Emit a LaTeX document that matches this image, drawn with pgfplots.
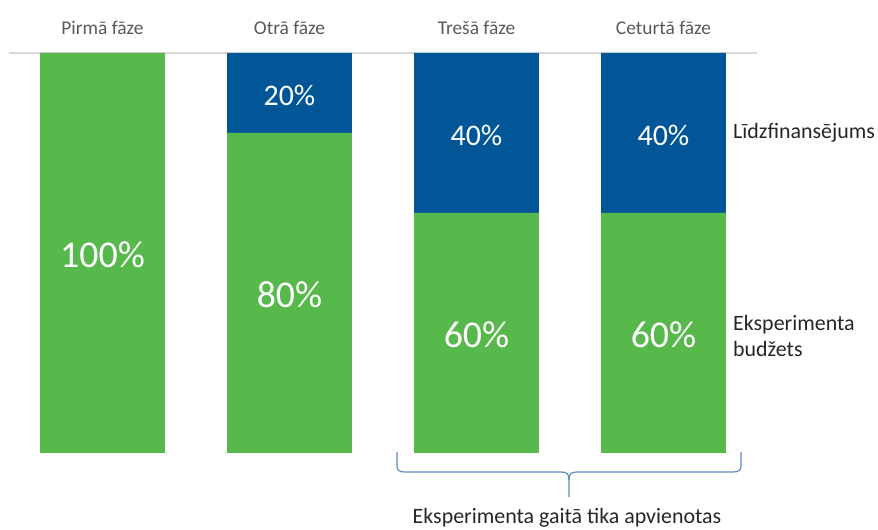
\documentclass[border=0pt]{standalone}
\usepackage{fontspec}
\setmainfont{Carlito}
\usepackage{pgfplots}
\pgfplotsset{compat=1.18}
\definecolor{cgreen}{HTML}{57B84B}
\definecolor{cblue}{HTML}{005696}
\definecolor{cgrayline}{HTML}{D9D9D9}
\definecolor{cgraytext}{HTML}{595959}
\definecolor{cbrace}{HTML}{5B8CC4}
\definecolor{ctext}{HTML}{262626}
\begin{document}
\begin{tikzpicture}[x=1bp,y=1bp]
\useasboundingbox (0,0) rectangle (878,530);
\begin{axis}[
  at={(9bp,77bp)}, anchor=south west,
  scale only axis, width=748bp, height=400bp,
  xmin=-0.5, xmax=3.5, ymin=0, ymax=100,
  ybar stacked, bar width=0.668,
  axis x line=top, axis y line=none,
  x axis line style={-, draw=cgrayline, line width=1.5bp},
  xtick=data, xticklabels={Pirmā fāze, Otrā fāze, Trešā fāze, Ceturtā fāze},
  xtick style={draw=none},
  xticklabel style={font=\fontsize{19.5}{22}\selectfont, text=cgraytext, anchor=base},
  xticklabel shift=16bp,
  clip=false,
  /pgf/number format/assume math mode=true,
  nodes near coords={\pgfmathfloatifflags{\pgfplotspointmeta}{0}{}{\pgfmathprintnumber{\pgfplotspointmeta}\%}},
  every node near coord/.append style={anchor=center, text=white, yshift=-2bp},
]
\addplot[fill=cgreen, draw=none, nodes near coords style={font=\fontsize{38}{40}\selectfont}] coordinates {(0,100) (1,80) (2,60) (3,60)};
\addplot[fill=cblue, draw=none, nodes near coords style={font=\fontsize{30}{32}\selectfont}] coordinates {(0,0) (1,20) (2,40) (3,40)};
\end{axis}
\node[anchor=west, text=ctext, font=\fontsize{22}{27}\selectfont, inner sep=0pt] at (733,397) {Līdzfinansējums};
\node[anchor=west, text=ctext, font=\fontsize{22}{27}\selectfont, inner sep=0pt, align=left] at (733,194) {Eksperimenta\\budžets};
\node[anchor=base, text=ctext, font=\fontsize{22}{27}\selectfont, inner sep=0pt] at (567,6) {Eksperimenta gaitā tika apvienotas};
\draw[cbrace, line width=1.2bp] (397,78) -- (397,64) .. controls (397,60) and (399,58) .. (405,58) -- (561,58) .. controls (567,58) and (569,56) .. (569,50) -- (569,33);
\draw[cbrace, line width=1.2bp] (741,78) -- (741,64) .. controls (741,60) and (739,58) .. (733,58) -- (577,58) .. controls (571,58) and (569,56) .. (569,50);
\end{tikzpicture}
\end{document}
